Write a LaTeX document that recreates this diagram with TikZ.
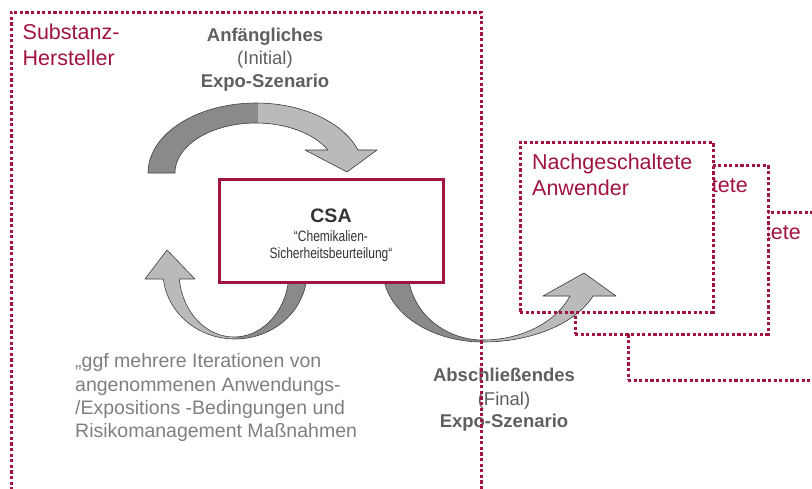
\documentclass[tikz,border=0pt]{standalone}
\usepackage{fontspec}
\setmainfont{Liberation Sans}
\newfontfamily\narrowfont[FakeStretch=0.8]{Liberation Sans}
\definecolor{dred}{HTML}{A0143F}
\definecolor{hgray}{HTML}{5F5F5F}
\definecolor{pgray}{HTML}{7F7F7F}
\definecolor{tdark}{HTML}{333333}
\definecolor{adark}{HTML}{8A8A8A}
\definecolor{alight}{HTML}{BABABA}
\definecolor{aline}{HTML}{404040}
\tikzset{
  dotbox/.style={draw=dred, line width=3pt, dash pattern=on 3.2pt off 2.4pt, outer sep=0pt, inner sep=0pt, anchor=north west},
  redtxt/.style={text=dred, font=\fontsize{21.5}{25}\selectfont, inner sep=0pt, anchor=base west},
  redend/.style={text=dred, font=\fontsize{21.5}{25}\selectfont, inner sep=0pt, anchor=base east},
  headtxt/.style={text=hgray, font=\bfseries\fontsize{18.5}{23}\selectfont, inner sep=0pt, anchor=base},
  subtxt/.style={text=hgray, font=\fontsize{18.5}{23}\selectfont, inner sep=0pt, anchor=base},
  paratxt/.style={text=pgray, font=\fontsize{19.5}{23}\selectfont, inner sep=0pt, anchor=base west},
  csasmall/.style={text=tdark, font=\narrowfont\fontsize{15}{17}\selectfont, inner sep=0pt, anchor=base},
  ribbon/.style={draw=aline, line width=0.6pt, line join=round},
}
\begin{document}
\begin{tikzpicture}[x=1pt,y=-1pt]
\useasboundingbox (0,0) rectangle (812,488);
\clip (0,0) rectangle (812,488);

% downstream user boxes (back to front)
\node[dotbox, fill=white, minimum width=202pt, minimum height=168pt] (box3) at (628,212) {};
\node[redend] (n3a) at (801,239.5) {tete};
\node[dotbox, fill=white, minimum width=193pt, minimum height=169pt] (box2) at (575,165) {};
\node[redend] (n2a) at (748,192.5) {tete};
\node[dotbox, fill=white, minimum width=193pt, minimum height=170pt] (box1) at (520,142) {};
\node[redtxt] (n1a) at (532,169.3) {Nachgeschaltete};
\node[redtxt] (n1b) at (532,195) {Anwender};

% top curved arrow
\path[save path=\arrA]
  plot[domain=180:340.8,samples=60] ({256+108*cos(\x)},{173+70*sin(\x)})
  -- (377,150) -- (347,172) -- (305,150)
  -- plot[domain=27.4:180,samples=60] ({256+81*cos(\x)},{173-50*sin(\x)})
  -- cycle;
\path[use path=\arrA, fill=adark];
\begin{scope}
  \clip (258,0) rectangle (420,260);
  \path[use path=\arrA, fill=alight];
\end{scope}
\path[use path=\arrA, ribbon];

% lower left U-turn arrow
\path[save path=\arrB]
  plot[domain=-174:5,samples=60] ({235+72*cos(\x)},{272-67*sin(\x)})
  -- plot[domain=-5:173.8,samples=60] ({234+55*cos(\x)},{272+65*sin(\x)})
  -- (195,279) -- (167,250) -- (145,279) -- cycle;
\path[use path=\arrB, fill=alight];
\begin{scope}
  \clip (236,200) rectangle (420,400);
  \path[use path=\arrB, fill=adark];
\end{scope}
\path[use path=\arrB, ribbon];

% lower right arrow to downstream users
\path[save path=\arrC]
  plot[domain=-184:-90,samples=50] ({483+100*cos(\x)},{270-72*sin(\x)})
  -- plot[domain=-90:-21.2,samples=50] ({483+118*cos(\x)},{270-72*sin(\x)})
  -- (616,296) -- (584,273) -- (543,296)
  -- plot[domain=21.8:90,samples=50] ({483+93.7*cos(\x)},{270+70*sin(\x)})
  -- plot[domain=90:184,samples=50] ({483+75*cos(\x)},{270+70*sin(\x)})
  -- cycle;
\path[use path=\arrC, fill=adark];
\begin{scope}
  \clip (483,200) rectangle (700,400);
  \path[use path=\arrC, fill=alight];
\end{scope}
\path[use path=\arrC, ribbon];

% front downstream box outline over the arrow
\node[dotbox, minimum width=193pt, minimum height=170pt] (box1o) at (520,142) {};

% CSA box
\node[draw=dred, line width=3pt, fill=white, outer sep=0pt, inner sep=0pt,
      minimum width=224pt, minimum height=103pt, anchor=north west] (csabox) at (219,179) {};
\node[text=tdark, font=\bfseries\fontsize{19.5}{23}\selectfont, inner sep=0pt, anchor=base] (csa) at (331,222) {CSA};
\node[csasmall] (csa1) at (331,241.7) {“Chemikalien-};
\node[csasmall] (csa2) at (331,258.3) {Sicherheitsbeurteilung“};

% labels
\node[redtxt] (h1) at (22.5,39.3) {Substanz-};
\node[redtxt] (h2) at (22.5,65) {Hersteller};

\node[headtxt] (t1) at (265,41) {Anfängliches};
\node[subtxt] (t2) at (265,64.3) {(Initial)};
\node[headtxt] (t3) at (265,87.3) {Expo-Szenario};

\node[headtxt] (b1) at (504,381.7) {Abschließendes};
\node[subtxt] (b2) at (504,405) {(Final)};
\node[headtxt] (b3) at (504,427.3) {Expo-Szenario};

\node[paratxt] (p1) at (75,367.3) {„ggf mehrere Iterationen von};
\node[paratxt] (p2) at (75,391) {angenommenen Anwendungs-};
\node[paratxt] (p3) at (75,414.3) {/Expositions -Bedingungen und};
\node[paratxt] (p4) at (75,437.3) {Risikomanagement Maßnahmen};

% manufacturer box (on top)
\node[dotbox, minimum width=470pt, minimum height=500pt] (herst) at (11,12) {};
\end{tikzpicture}
\end{document}
